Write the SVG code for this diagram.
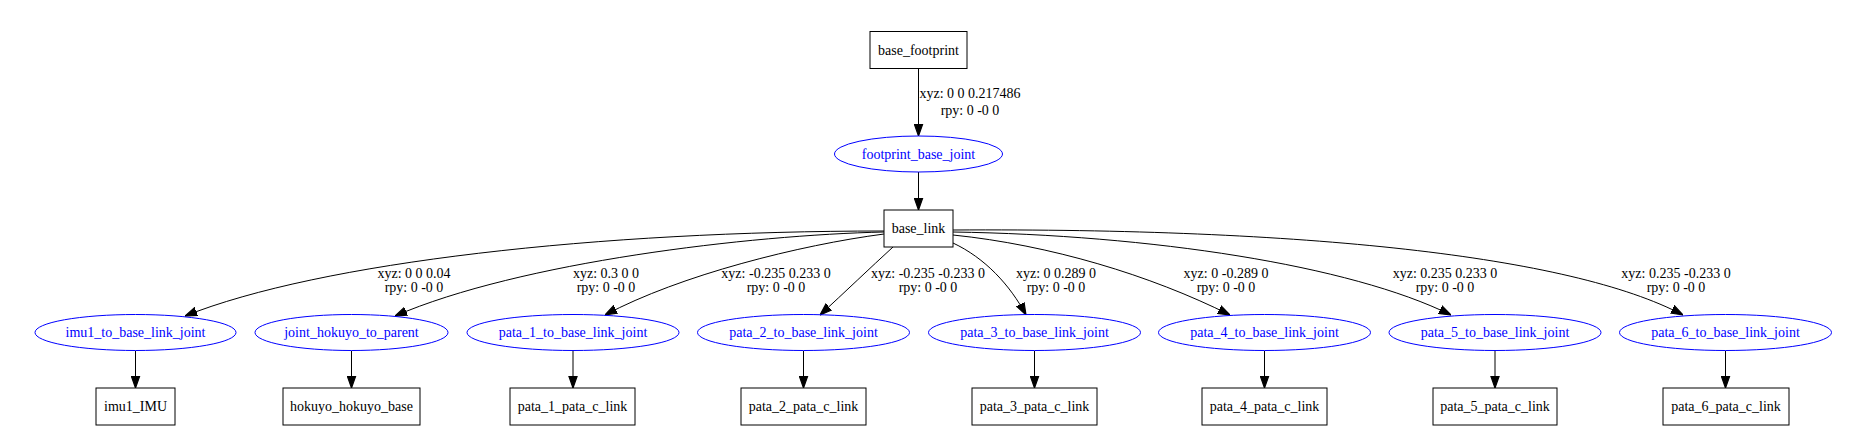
<svg xmlns="http://www.w3.org/2000/svg" width="1856" height="445" viewBox="0 0 1856 445">
<defs>
<marker id="arr" markerUnits="userSpaceOnUse" markerWidth="12" markerHeight="10" refX="10" refY="3.5" orient="auto" viewBox="0 0 10 7">
<path d="M0,0 L10,3.5 L0,7 Z" fill="#000" stroke="#000" stroke-width="1"/>
</marker>
</defs>
<style>
text{font-family:"Liberation Serif","Times New Roman",serif;font-size:14px;text-anchor:middle}
.link rect{fill:#fff;stroke:#000;stroke-width:1}
.link text{fill:#000}
.joint ellipse{fill:none;stroke:#0000ff;stroke-width:1}
.joint text{fill:#0000ff}
.edges path{fill:none;stroke:#000;stroke-width:1;marker-end:url(#arr)}
.lbl{fill:#000}
</style>
<rect width="1856" height="445" fill="#fff"/>
<g class="edges" id="connectors">
<path d="M918.5,68 L918.5,136"/>
<path d="M918.5,172 L918.5,210"/>
<path d="M884,231 C600,231 320,262 185,316"/>
<path d="M884,232 C750,235 520,262 395,316"/>
<path d="M884,234 C800,245 680,275 605,315"/>
<path d="M893,247 C870,268 845,292 820,315"/>
<path d="M953,243 C985,258 1010,285 1026,315"/>
<path d="M953,235 C1050,245 1150,275 1230,315"/>
<path d="M953,232 C1150,235 1350,265 1451,315"/>
<path d="M953,230 C1300,228 1570,255 1683,315"/>
<path d="M135.5,351 L135.5,388"/>
<path d="M351.5,351 L351.5,388"/>
<path d="M573,351 L573,388"/>
<path d="M803.5,351 L803.5,388"/>
<path d="M1034.5,351 L1034.5,388"/>
<path d="M1264.5,351 L1264.5,388"/>
<path d="M1495,351 L1495,388"/>
<path d="M1725.5,351 L1725.5,388"/>
<g class="lbl">
<text x="970" y="97.5">xyz: 0 0 0.217486</text><text x="970" y="114.5">rpy: 0 -0 0</text>
<text x="414" y="277.5">xyz: 0 0 0.04</text><text x="414" y="291.5">rpy: 0 -0 0</text>
<text x="606" y="277.5">xyz: 0.3 0 0</text><text x="606" y="291.5">rpy: 0 -0 0</text>
<text x="776" y="277.5">xyz: -0.235 0.233 0</text><text x="776" y="291.5">rpy: 0 -0 0</text>
<text x="928" y="277.5">xyz: -0.235 -0.233 0</text><text x="928" y="291.5">rpy: 0 -0 0</text>
<text x="1056" y="277.5">xyz: 0 0.289 0</text><text x="1056" y="291.5">rpy: 0 -0 0</text>
<text x="1226" y="277.5">xyz: 0 -0.289 0</text><text x="1226" y="291.5">rpy: 0 -0 0</text>
<text x="1445" y="277.5">xyz: 0.235 0.233 0</text><text x="1445" y="291.5">rpy: 0 -0 0</text>
<text x="1676" y="277.5">xyz: 0.235 -0.233 0</text><text x="1676" y="291.5">rpy: 0 -0 0</text>
</g>
</g>
<g id="base_footprint" class="link"><rect x="870" y="31.5" width="97" height="37"/><text x="918.5" y="54.5">base_footprint</text></g>
<g id="footprint_base_joint" class="joint"><ellipse cx="918.5" cy="154" rx="84" ry="18"/><text x="918.5" y="158.5">footprint_base_joint</text></g>
<g id="base_link" class="link"><rect x="884" y="210" width="69" height="37"/><text x="918.5" y="233">base_link</text></g>
<g id="imu1_to_base_link_joint" class="joint"><ellipse cx="135.5" cy="332.5" rx="100.5" ry="18"/><text x="135.5" y="337">imu1_to_base_link_joint</text></g>
<g id="joint_hokuyo_to_parent" class="joint"><ellipse cx="351.5" cy="332.5" rx="96.5" ry="18"/><text x="351.5" y="337">joint_hokuyo_to_parent</text></g>
<g id="pata_1_to_base_link_joint" class="joint"><ellipse cx="573" cy="332.5" rx="106" ry="18"/><text x="573" y="337">pata_1_to_base_link_joint</text></g>
<g id="pata_2_to_base_link_joint" class="joint"><ellipse cx="803.5" cy="332.5" rx="106" ry="18"/><text x="803.5" y="337">pata_2_to_base_link_joint</text></g>
<g id="pata_3_to_base_link_joint" class="joint"><ellipse cx="1034.5" cy="332.5" rx="106" ry="18"/><text x="1034.5" y="337">pata_3_to_base_link_joint</text></g>
<g id="pata_4_to_base_link_joint" class="joint"><ellipse cx="1264.5" cy="332.5" rx="106" ry="18"/><text x="1264.5" y="337">pata_4_to_base_link_joint</text></g>
<g id="pata_5_to_base_link_joint" class="joint"><ellipse cx="1495" cy="332.5" rx="106" ry="18"/><text x="1495" y="337">pata_5_to_base_link_joint</text></g>
<g id="pata_6_to_base_link_joint" class="joint"><ellipse cx="1725.5" cy="332.5" rx="106" ry="18"/><text x="1725.5" y="337">pata_6_to_base_link_joint</text></g>
<g id="imu1_IMU" class="link"><rect x="96" y="388" width="79" height="37"/><text x="135.5" y="411">imu1_IMU</text></g>
<g id="hokuyo_hokuyo_base" class="link"><rect x="283" y="388" width="137" height="37"/><text x="351.5" y="411">hokuyo_hokuyo_base</text></g>
<g id="pata_1_pata_c_link" class="link"><rect x="510" y="388" width="125" height="37"/><text x="572.5" y="411">pata_1_pata_c_link</text></g>
<g id="pata_2_pata_c_link" class="link"><rect x="741" y="388" width="125" height="37"/><text x="803.5" y="411">pata_2_pata_c_link</text></g>
<g id="pata_3_pata_c_link" class="link"><rect x="972" y="388" width="125" height="37"/><text x="1034.5" y="411">pata_3_pata_c_link</text></g>
<g id="pata_4_pata_c_link" class="link"><rect x="1202" y="388" width="125" height="37"/><text x="1264.5" y="411">pata_4_pata_c_link</text></g>
<g id="pata_5_pata_c_link" class="link"><rect x="1433" y="388" width="124" height="37"/><text x="1495" y="411">pata_5_pata_c_link</text></g>
<g id="pata_6_pata_c_link" class="link"><rect x="1663" y="388" width="126" height="37"/><text x="1726" y="411">pata_6_pata_c_link</text></g>
</svg>
